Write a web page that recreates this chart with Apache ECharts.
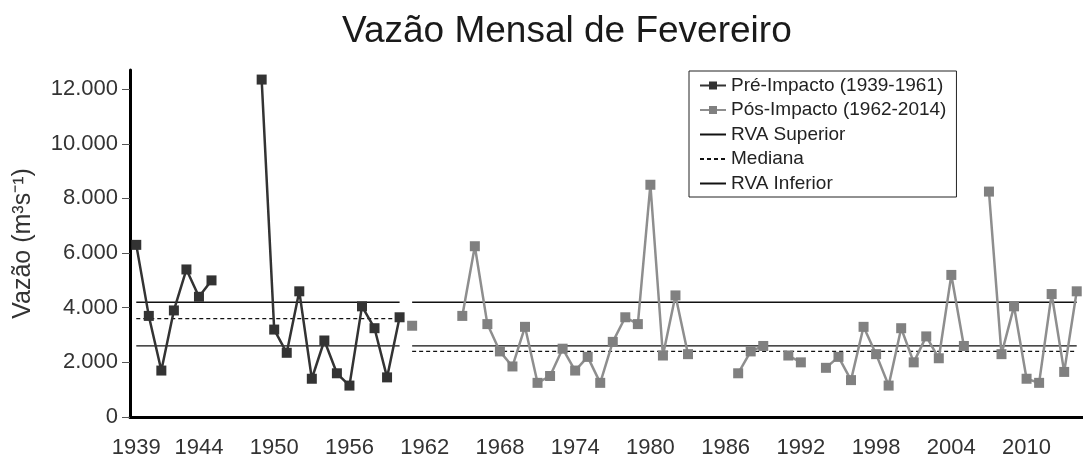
<!DOCTYPE html>
<html>
<head>
<meta charset="utf-8">
<script src="https://cdn.jsdelivr.net/npm/echarts@6/dist/echarts.min.js"></script>
<style>
    html, body { margin: 0; padding: 0; background: #fff; }
    #main { width: 1083px; height: 461px; }
</style>
</head>
<body>
<div id="main"></div>
<script>
    // anos do eixo x (1939-2014)
    var firstYear = 1939, lastYear = 2014;
    var years = [];
    for (var y = firstYear; y <= lastYear; y++) years.push(String(y));

    // vazões pré-impacto 1939-1960 (null = sem dado)
    var preFlow = [6300, 3700, 1700, 3900, 5400, 4400, 5000, null, null, null,
        12350, 3200, 2350, 4600, 1400, 2800, 1600, 1150, 4050, 3250, 1450, 3650];

    // vazões pós-impacto 1961-2014
    var postFlow = [3340, null, null, null, 3700, 6250, 3400, 2400, 1850, 3300,
        1250, 1500, 2500, 1700, 2200, 1250, 2750, 3650, 3400, 8500,
        2250, 4450, 2300, null, null, null, 1600, 2400, 2600, null,
        2250, 2000, null, 1800, 2200, 1350, 3300, 2300, 1150, 3250,
        2000, 2950, 2150, 5200, 2600, null, 8250, 2300, 4050, 1400,
        1250, 4500, 1650, 4600];

    // limites RVA e medianas
    var rvaUpper = 4200;
    var rvaLower = 2600;
    var preMedian = 3600;
    var postMedian = 2400;

    var yTicks = [0, 2000, 4000, 6000, 8000, 10000, 12000];

    var nPre = preFlow.length;
    var nPost = postFlow.length;

    function blanks(n) {
        var a = [];
        for (var i = 0; i < n; i++) a.push(null);
        return a;
    }
    function flat(v, n) {
        var a = [];
        for (var i = 0; i < n; i++) a.push(v);
        return a;
    }
    function preOnly(arr) { return arr.concat(blanks(nPost)); }
    function postOnly(arr) { return blanks(nPre).concat(arr); }

    function fmt(v) {
        return String(v).replace(/\B(?=(\d{3})+(?!\d))/g, '.');
    }

    var font = 'Liberation Sans, Arial, sans-serif';

    function refLine(name, data, dashed) {
        return {
            name: name,
            type: 'line',
            data: data,
            symbol: 'none',
            silent: true,
            z: 1,
            lineStyle: {color: '#111', width: 1.3, type: dashed ? [4, 3] : 'solid'},
            itemStyle: {color: '#111'}
        };
    }

    // só a linha na legenda (sem o círculo)
    var noMark = {opacity: 0};

    var chart = echarts.init(document.getElementById('main'));
    var option = {
        animation: false,
        backgroundColor: '#fff',
        title: {
            text: 'Vazão Mensal de Fevereiro',
            left: 337,
            top: 8,
            textStyle: {fontFamily: font, fontSize: 37, fontWeight: 'normal', color: '#1a1a1a'}
        },
        legend: {
            orient: 'vertical',
            left: 689,
            top: 71,
            padding: [5, 10, 4, 10],
            borderColor: '#222',
            borderWidth: 1,
            itemWidth: 26,
            itemHeight: 10,
            itemGap: 5.5,
            textStyle: {fontFamily: font, fontSize: 19, lineHeight: 18, color: '#222'},
            data: [
                'Pré-Impacto (1939-1961)',
                'Pós-Impacto (1962-2014)',
                {name: 'RVA Superior', itemStyle: noMark},
                {name: 'Mediana', itemStyle: noMark},
                {name: 'RVA Inferior', itemStyle: noMark}
            ]
        },
        grid: {left: 130, top: 70, width: 954, height: 347},
        xAxis: {
            type: 'category',
            data: years,
            boundaryGap: true,
            axisLine: {lineStyle: {color: '#000', width: 3}},
            axisTick: {
                interval: 0,
                alignWithLabel: true,
                length: 5,
                lineStyle: {color: '#777', width: 1}
            },
            axisLabel: {
                interval: function (index, value) {
                    var yr = Number(value);
                    return index === 0 || (yr - 1944) % 6 === 0;
                },
                fontFamily: font,
                fontSize: 22,
                color: '#333',
                margin: 20
            }
        },
        yAxis: {
            type: 'value',
            min: 0,
            max: 12700,
            interval: 2000,
            name: 'Vazão (m³s⁻¹)',
            nameLocation: 'middle',
            nameGap: 94,
            nameTextStyle: {fontFamily: font, fontSize: 25, color: '#333'},
            splitLine: {show: false},
            axisLine: {show: true, lineStyle: {color: '#000', width: 3}},
            axisTick: {show: true, length: 8, lineStyle: {color: '#555', width: 1}},
            axisLabel: {
                showMaxLabel: false,
                fontFamily: font,
                fontSize: 22,
                color: '#333',
                margin: 12,
                formatter: function (v) {
                    return yTicks.indexOf(v) >= 0 ? fmt(v) : '';
                }
            }
        },
        series: [
            {
                name: 'Pré-Impacto (1939-1961)',
                type: 'line',
                data: preOnly(preFlow),
                symbol: 'rect',
                symbolSize: 10,
                showAllSymbol: true,
                z: 4,
                lineStyle: {color: '#333', width: 2.5},
                itemStyle: {color: '#333'}
            },
            {
                name: 'Pós-Impacto (1962-2014)',
                type: 'line',
                data: postOnly(postFlow),
                symbol: 'rect',
                symbolSize: 10,
                showAllSymbol: true,
                z: 3,
                lineStyle: {color: '#8e8e8e', width: 2.5},
                itemStyle: {color: '#808080'}
            },
            refLine('RVA Superior', preOnly(flat(rvaUpper, nPre)), false),
            refLine('RVA Superior', postOnly(flat(rvaUpper, nPost)), false),
            refLine('Mediana', preOnly(flat(preMedian, nPre)), true),
            refLine('Mediana', postOnly(flat(postMedian, nPost)), true),
            refLine('RVA Inferior', preOnly(flat(rvaLower, nPre)), false),
            refLine('RVA Inferior', postOnly(flat(rvaLower, nPost)), false)
        ]
    };
    chart.setOption(option);
</script>
</body>
</html>
